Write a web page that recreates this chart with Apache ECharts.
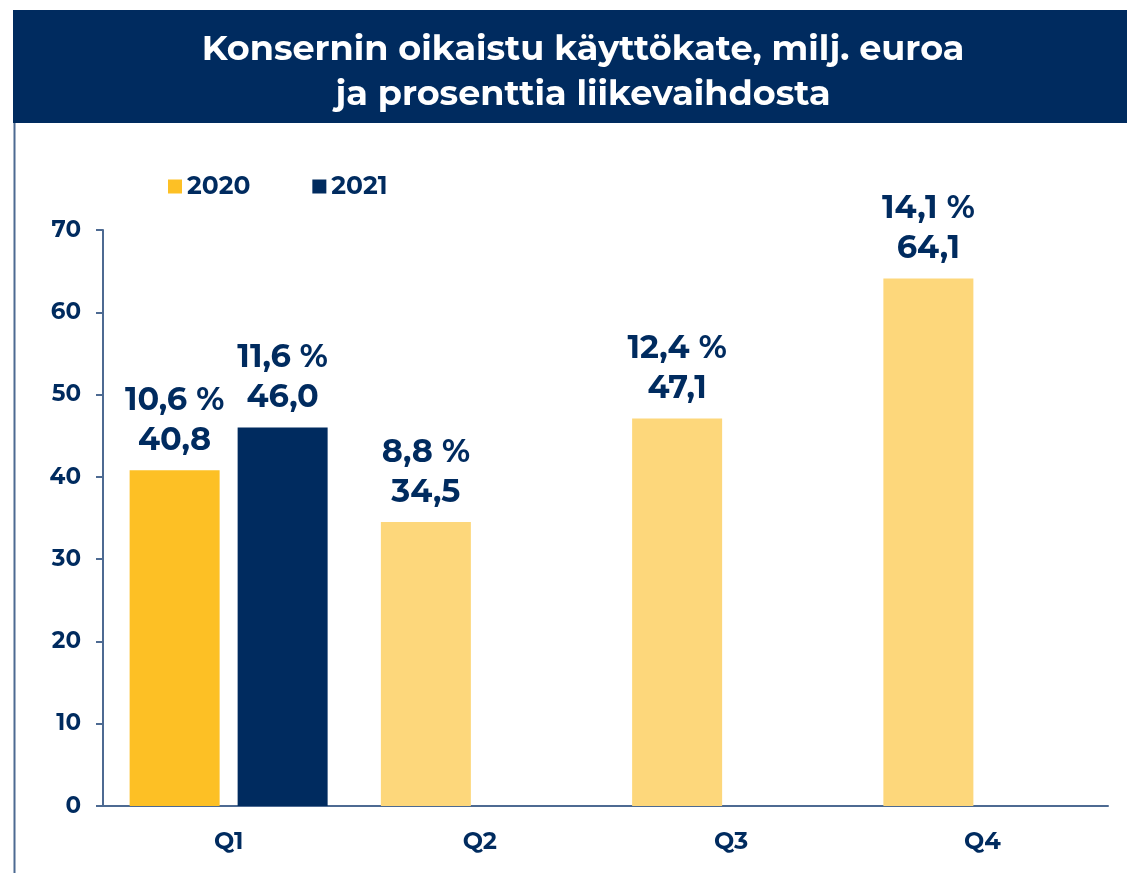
<!DOCTYPE html>
<html>
<head>
<meta charset="utf-8">
<script src="https://cdn.jsdelivr.net/npm/echarts@6/dist/echarts.min.js"></script>
<style>
  html, body { margin: 0; padding: 0; background: #fff; }
  #chart { width: 1127px; height: 873px; }
</style>
</head>
<body>
<div id="chart"></div>
<script>
// data
const quarters = ['Q1', 'Q2', 'Q3', 'Q4'];
const values2020 = [40.8, 34.5, 47.1, 64.1];
const pct2020 = ['10,6', '8,8', '12,4', '14,1'];
const values2021 = [46.0, null, null, null];
const pct2021 = ['11,6', null, null, null];
const yTicks = [0, 10, 20, 30, 40, 50, 60, 70];

const navy = '#002b5f';
const axisColor = '#4d6a92';
const font = 'Montserrat, "DejaVu Sans", sans-serif';

const chart = echarts.init(document.getElementById('chart'));

function fmt(v) {
  return v.toFixed(1).replace('.', ',');
}

function labelFor(pcts) {
  return {
    show: true,
    position: 'top',
    distance: 10,
    color: navy,
    fontFamily: font,
    fontWeight: 'bold',
    fontSize: 32,
    lineHeight: 40,
    formatter: (p) => pcts[p.dataIndex] + ' %\n' + fmt(p.value),
  };
}

chart.setOption({
  animation: false,
  graphic: [
    {
      type: 'rect',
      shape: { x: 13, y: 10, width: 1114, height: 113 },
      style: { fill: navy },
      z: 0,
    },
    {
      type: 'line',
      shape: { x1: 14.5, y1: 123, x2: 14.5, y2: 873 },
      style: { stroke: axisColor, lineWidth: 2 },
    },
  ],
  title: {
    text: 'Konsernin oikaistu käyttökate, milj. euroa\nja prosenttia liikevaihdosta',
    left: 578,
    textAlign: 'center',
    top: 22,
    textStyle: {
      color: '#fff',
      fontFamily: font,
      fontWeight: 'bold',
      fontSize: 35,
      lineHeight: 45,
    },
  },
  legend: {
    left: 163,
    top: 169,
    itemWidth: 14,
    itemHeight: 14,
    itemGap: 62,
    icon: 'rect',
    textStyle: { color: navy, fontFamily: font, fontWeight: 'bold', fontSize: 25 },
    data: [
      { name: '2020', itemStyle: { color: '#fdc025' } },
      { name: '2021', itemStyle: { color: navy } },
    ],
  },
  grid: { left: 103, right: 19, top: 230, bottom: 67, containLabel: false },
  xAxis: {
    type: 'category',
    data: quarters,
    axisLine: { lineStyle: { color: axisColor, width: 2 } },
    axisTick: { show: false },
    axisLabel: {
      color: navy,
      fontFamily: font,
      fontWeight: 'bold',
      fontSize: 24,
      margin: 24,
    },
  },
  yAxis: {
    type: 'value',
    min: yTicks[0],
    max: yTicks[yTicks.length - 1],
    interval: 10,
    splitLine: { show: false },
    axisLine: { show: true, lineStyle: { color: axisColor, width: 2 } },
    axisTick: { show: true, length: 7, lineStyle: { color: axisColor, width: 2 } },
    axisLabel: {
      color: navy,
      fontFamily: font,
      fontWeight: 'bold',
      fontSize: 23,
      margin: 22,
    },
  },
  series: [
    {
      name: '2020',
      type: 'bar',
      barWidth: 90,
      barGap: '20%',
      data: values2020.map((v, i) => ({
        value: v,
        itemStyle: { color: i === 0 ? '#fdc025' : '#fdd77b' },
      })),
      label: labelFor(pct2020),
    },
    {
      name: '2021',
      type: 'bar',
      barWidth: 90,
      itemStyle: { color: navy },
      data: values2021,
      label: labelFor(pct2021),
    },
  ],
});
</script>
</body>
</html>
